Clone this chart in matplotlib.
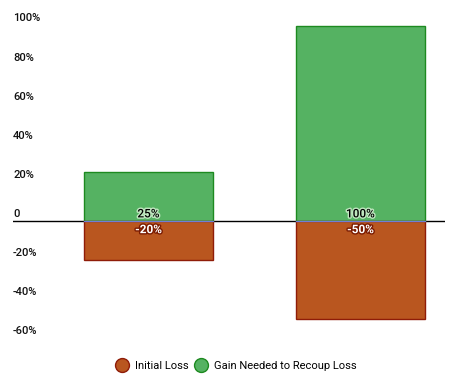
import matplotlib.pyplot as plt
import matplotlib.patheffects as pe
from matplotlib.lines import Line2D

plt.rcParams['font.family'] = ['Roboto', 'DejaVu Sans']

categories = ["A", "B"]
initial_loss = [-20, -50]
gain_needed = [25, 100]
yticks = [100, 80, 60, 40, 20, 0, -20, -40, -60]
ytick_labels = ["100%", "80%", "60%", "40%", "20%", "0", "-20%", "-40%", "-60%"]

red = "#b9561f"
red_edge = "#8f1c08"
green = "#55b262"
green_edge = "#1d8a20"

fig = plt.figure(figsize=(4.49, 3.88), dpi=100)
ax = fig.add_axes([13 / 449, 1 - 342.3 / 388, 432 / 449, 332.4 / 388])
ax.set_xlim(-0.639, 1.399)
ax.set_ylim(-62, 108)
ax.axis("off")

x = list(range(len(categories)))
width = 0.608
ax.bar(x, gain_needed, width, color=green, edgecolor=green_edge, linewidth=1, zorder=2)
ax.bar(x, initial_loss, width, color=red, edgecolor=red_edge, linewidth=1, zorder=2)
ax.axhline(0, color="black", lw=1, zorder=1)
for xi in x:
    ax.plot([xi - width / 2, xi + width / 2], [0, 0], color="#6f7fd6", lw=0.9, zorder=3)

for xi, g, l in zip(x, gain_needed, initial_loss):
    ax.annotate(f"{g}%", (xi, 0), xytext=(0, 0.5), textcoords="offset points",
                ha="center", va="bottom", fontsize=8.5, fontweight="medium", color="black",
                path_effects=[pe.withStroke(linewidth=2, foreground="#bfe6bf")], zorder=4)
    ax.annotate(f"{l}%", (xi, 0), xytext=(0, -1.5), textcoords="offset points",
                ha="center", va="top", fontsize=8.5, fontweight="bold", color="white",
                path_effects=[pe.withStroke(linewidth=2, foreground="#7a1a00")], zorder=4)

for v, lab in zip(yticks, ytick_labels):
    ax.annotate(lab, (0, v), xycoords=("axes fraction", "data"), xytext=(0, 1.5),
                textcoords="offset points", ha="left", va="bottom", fontsize=8,
                fontweight="medium", color="#111111")

handles = [
    Line2D([], [], marker="o", ls="none", markersize=10, markerfacecolor=red,
           markeredgecolor=red_edge, label="Initial Loss"),
    Line2D([], [], marker="o", ls="none", markersize=10, markerfacecolor=green,
           markeredgecolor=green_edge, label="Gain Needed to Recoup Loss"),
]
fig.legend(handles=handles, loc="center", bbox_to_anchor=(236 / 449, 1 - 366 / 388),
           ncol=2, frameon=False, fontsize=8, handletextpad=0.5, columnspacing=0.6,
           handlelength=1.2)

fig.savefig("out.png", dpi=100)
